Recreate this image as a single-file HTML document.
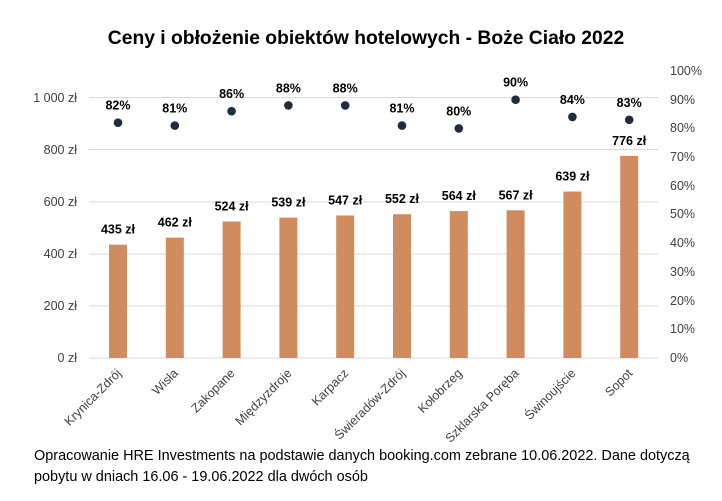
<!DOCTYPE html>
<html><head><meta charset="utf-8"><style>body{margin:0;background:#fff}</style></head><body>
<svg width="722" height="496" xmlns="http://www.w3.org/2000/svg" font-family="Liberation Sans, sans-serif">
<rect width="722" height="496" fill="#fff"/>
<text x="366" y="44" text-anchor="middle" font-size="19.3" font-weight="bold" fill="#000">Ceny i obłożenie obiektów hotelowych - Boże Ciało 2022</text>
<g stroke="#d9d9d9" stroke-width="1">
<line x1="89" x2="658" y1="358" y2="358"/><line x1="89" x2="658" y1="306" y2="306"/><line x1="89" x2="658" y1="254" y2="254"/><line x1="89" x2="658" y1="202" y2="202"/><line x1="89" x2="658" y1="149.5" y2="149.5"/><line x1="89" x2="658" y1="97.5" y2="97.5"/>
</g>
<g font-size="12.5" fill="#404040" text-anchor="end">
<text x="77" y="362">0 zł</text><text x="77" y="310">200 zł</text><text x="77" y="258">400 zł</text><text x="77" y="206">600 zł</text><text x="77" y="154">800 zł</text><text x="77" y="102">1 000 zł</text>
</g>
<g font-size="12.5" fill="#404040">
<text x="670" y="362">0%</text><text x="670" y="333">10%</text><text x="670" y="305">20%</text><text x="670" y="276">30%</text><text x="670" y="247">40%</text><text x="670" y="218">50%</text><text x="670" y="190">60%</text><text x="670" y="161">70%</text><text x="670" y="132">80%</text><text x="670" y="104">90%</text><text x="670" y="75">100%</text>
</g>
<g id="bars" fill="#D08C5E"></g>
<g id="dots" fill="#222a3c"></g>
<g id="lbl" font-size="12.5" font-weight="bold" fill="#000" text-anchor="middle"></g>
<g id="xl" font-size="12.5" fill="#404040" text-anchor="end"></g>
<text x="34" y="460" font-size="14.45" fill="#000">Opracowanie HRE Investments na podstawie danych booking.com zebrane 10.06.2022. Dane dotyczą</text>
<text x="34" y="481" font-size="14.45" fill="#000">pobytu w dniach 16.06 - 19.06.2022 dla dwóch osób</text>
<script>
var n=["Krynica-Zdrój","Wisła","Zakopane","Międzyzdroje","Karpacz","Świeradów-Zdrój","Kołobrzeg","Szklarska Poręba","Świnoujście","Sopot"];
var v=[435,462,524,539,547,552,564,567,639,776];
var p=[82,81,86,88,88,81,80,90,84,83];
var ns="http://www.w3.org/2000/svg";
function el(g,t,a,txt){var e=document.createElementNS(ns,t);for(var k in a)e.setAttribute(k,a[k]);if(txt)e.textContent=txt;document.getElementById(g).appendChild(e);}
for(var i=0;i<10;i++){var c=118+i*56.8;var y=358-v[i]*0.2605;
el("bars","rect",{x:c-9,y:y,width:18,height:358-y});
var dy=358-p[i]*2.87;
el("dots","circle",{cx:c,cy:dy,r:4.3});
el("lbl","text",{x:c,y:y-11},v[i]+" zł");
el("lbl","text",{x:c,y:dy-13},p[i]+"%");
el("xl","text",{x:c+4,y:374,transform:"rotate(-45 "+(c+4)+" 374)"},n[i]);}
</script>
</svg>
</body></html>
